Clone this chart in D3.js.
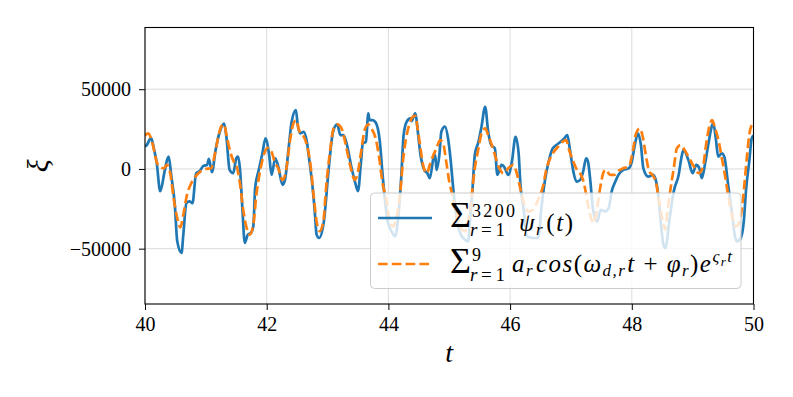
<!DOCTYPE html>
<html><head><meta charset="utf-8">
<script src="https://cdn.jsdelivr.net/npm/d3@7"></script>
<style>body{margin:0;background:#fff}</style>
</head><body>
<svg id="chart" width="793" height="397"></svg>
<script>
// ---- data ----
const xTicks = [40, 42, 44, 46, 48, 50];
const yTicks = [-50000, 0, 50000];
const tBlue = [40.00,40.03,40.10,40.15,40.19,40.25,40.32,40.37,40.39,40.43,40.49,40.53,40.60,40.63,40.68,40.73,40.78,40.84,40.90,40.96,41.02,41.05,41.10,41.16,41.23,41.30,41.34,41.39,41.45,41.50,41.53,41.56,41.60,41.64,41.69,41.74,41.78,41.81,41.87,41.93,41.98,42.04,42.08,42.14,42.19,42.26,42.30,42.36,42.41,42.48,42.51,42.55,42.61,42.66,42.70,42.75,42.79,42.82,42.86,42.94,43.01,43.09,43.16,43.21,43.26,43.32,43.39,43.45,43.50,43.55,43.58,43.63,43.67,43.69,43.74,43.79,43.86,43.90,43.94,43.99,44.05,44.11,44.16,44.21,44.25,44.30,44.36,44.38,44.44,44.49,44.52,44.59,44.64,44.68,44.74,44.77,44.79,44.84,44.87,44.93,44.98,45.02,45.07,45.12,45.19,45.26,45.31,45.34,45.38,45.42,45.48,45.53,45.59,45.64,45.69,45.75,45.79,45.86,45.90,45.97,46.03,46.09,46.14,46.17,46.22,46.28,46.37,46.46,46.52,46.57,46.64,46.70,46.76,46.83,46.89,46.94,46.98,47.04,47.09,47.15,47.20,47.25,47.28,47.32,47.36,47.43,47.49,47.56,47.62,47.67,47.73,47.78,47.86,47.95,48.00,48.05,48.10,48.15,48.19,48.27,48.35,48.40,48.44,48.48,48.52,48.55,48.63,48.69,48.77,48.82,48.85,48.93,49.00,49.06,49.11,49.15,49.21,49.26,49.32,49.34,49.38,49.42,49.48,49.52,49.59,49.65,49.69,49.73,49.79,49.84,49.88,49.93,49.97,50.00];
const xiBlue = [14000,15000,19500,12000,4600,-14000,-2000,6500,7700,-3750,-22500,-45400,-52700,-41000,-21500,-20400,-21500,-2700,-1250,1900,2500,6250,-2000,11900,23300,28500,19200,-600,-2700,6700,7700,400,-24600,-46400,-41200,-40200,-36000,-12000,-600,9800,19200,8750,-3750,6700,1500,-10000,-6900,12900,29600,36900,27500,22300,23300,17000,5600,-10000,-26700,-41200,-43300,-32900,-3750,23300,27900,21200,21200,15000,1500,-7900,-14000,4600,16000,17000,34800,30600,30600,29200,17000,-1700,-18300,-33000,-39000,-42300,-30800,-5800,21200,29600,31700,30000,34800,21200,10800,-600,-2700,-5800,6700,8750,-600,9800,23300,26500,19200,6700,-14000,-30800,-41200,-44400,-45400,-33000,-14000,8750,17000,26500,39000,23300,15000,12900,-3750,2500,1500,-3750,4600,20200,9800,-10000,-24600,-42300,-43300,-43300,-22500,-7900,5600,12900,15000,17000,19200,21200,12900,-1700,-7900,-6900,-1700,6700,4600,-7900,-24600,-33000,-25600,-26600,-24600,-14000,-7900,-3750,-600,400,4600,15000,22300,15000,400,-4800,-3750,-7900,-18300,-35000,-47500,-49600,-28700,-14000,-3750,8000,11900,5600,-2700,2500,400,-5800,4600,16000,27500,28500,19200,7700,9800,7700,-12000,-28700,-41200,-45400,-43300,-33000,-12000,4600,19200,21000];
const tOrange = [40.00,40.05,40.13,40.19,40.24,40.31,40.36,40.42,40.47,40.53,40.58,40.63,40.69,40.76,40.83,40.91,41.00,41.09,41.14,41.20,41.25,41.30,41.34,41.40,41.46,41.50,41.56,41.61,41.67,41.72,41.78,41.83,41.90,41.97,42.02,42.08,42.13,42.19,42.26,42.32,42.38,42.43,42.48,42.54,42.61,42.66,42.72,42.77,42.82,42.87,42.93,42.98,43.04,43.10,43.16,43.23,43.30,43.37,43.45,43.50,43.56,43.61,43.67,43.72,43.79,43.85,43.90,43.97,44.02,44.08,44.13,44.19,44.25,44.29,44.34,44.40,44.44,44.48,44.52,44.57,44.63,44.68,44.74,44.79,44.85,44.90,44.95,45.00,45.05,45.12,45.19,45.26,45.33,45.37,45.42,45.48,45.53,45.59,45.64,45.69,45.75,45.81,45.89,45.97,46.05,46.11,46.16,46.22,46.30,46.38,46.46,46.54,46.60,46.66,46.72,46.79,46.86,46.92,46.97,47.04,47.10,47.15,47.22,47.27,47.33,47.37,47.43,47.48,47.54,47.58,47.64,47.71,47.78,47.86,47.95,48.02,48.07,48.13,48.18,48.23,48.29,48.34,48.40,48.45,48.51,48.55,48.58,48.63,48.69,48.74,48.80,48.85,48.93,49.02,49.10,49.17,49.22,49.28,49.32,49.37,49.43,49.48,49.54,49.59,49.65,49.70,49.75,49.81,49.85,49.89,49.93,49.97,50.00];
const xiOrange = [21000,22300,15000,4600,1500,400,2500,-3750,-18300,-30800,-36700,-28700,-16200,-9000,-4800,-1700,0,400,7700,19200,26500,27900,21200,10800,4600,2500,-9000,-24600,-37000,-41200,-35000,-16200,400,10800,13300,10800,4600,400,-6900,-600,17000,27500,30600,23300,20200,15000,2500,-16200,-33000,-39000,-33000,-10000,10800,25400,27900,25400,15000,2500,-6900,-1700,12900,24400,27900,25400,19200,6700,-7900,-20400,-33000,-36000,-30800,-16200,8750,19200,27500,32700,33300,25400,15000,2500,-2700,2500,8750,12900,18100,16000,4600,-7900,-16200,-28700,-37000,-39000,-28700,-16200,400,12900,22300,25400,21200,16000,8750,1500,-2700,400,2500,-2700,-11000,-20400,-26700,-25600,-19400,-11000,400,6700,10800,14000,17000,18100,11900,4600,-600,-2700,-10000,-20400,-30800,-33900,-24600,-12000,-1700,-600,-3750,-3750,-1250,400,1500,11900,22300,25400,20200,8750,-1700,-3750,-9000,-20400,-33000,-38000,-28700,-14000,400,12900,15000,12900,7700,1500,-2700,1500,15000,27500,30600,25400,17000,6700,-5800,-18300,-29800,-36000,-35000,-24600,-10000,6700,21200,27500,28700];

// ---- layout ----
const svg = d3.select("#chart");
const L = 145, R = 753.5, T = 27.5, B = 304;
const FONT = "'Liberation Serif','DejaVu Serif',serif";
const x = d3.scaleLinear().domain([40, 50]).range([L, R]);
const y = d3.scaleLinear().domain([-84700, 88700]).range([B, T]);

// grid
const grid = svg.append("g");
grid.selectAll("line.gx").data(xTicks).join("line")
  .attr("x1", d => x(d)).attr("x2", d => x(d)).attr("y1", T).attr("y2", B)
  .attr("stroke", "#b0b0b0").attr("stroke-opacity", 0.45).attr("stroke-width", 1);
grid.selectAll("line.gy").data(yTicks).join("line")
  .attr("x1", L).attr("x2", R).attr("y1", d => y(d)).attr("y2", d => y(d))
  .attr("stroke", "#b0b0b0").attr("stroke-opacity", 0.45).attr("stroke-width", 1);

// clip
svg.append("clipPath").attr("id", "clip").append("rect")
  .attr("x", L).attr("y", T).attr("width", R - L).attr("height", B - T);

const line = d3.line().x(d => x(d[0])).y(d => y(d[1])).curve(d3.curveMonotoneX);
const blue = tBlue.map((t, i) => [t, xiBlue[i]]);
const orange = tOrange.map((t, i) => [t, xiOrange[i]]);

const plot = svg.append("g").attr("clip-path", "url(#clip)");
plot.append("path").datum(blue).attr("d", line)
  .attr("fill", "none").attr("stroke", "#1f77b4").attr("stroke-width", 2.7)
  .attr("stroke-linejoin", "round").attr("stroke-linecap", "butt");
plot.append("path").datum(orange).attr("d", line)
  .attr("fill", "none").attr("stroke", "#ff7f0e").attr("stroke-width", 2.7)
  .attr("stroke-dasharray", "9.6,4.2").attr("stroke-linejoin", "round");

// axes
const xAxis = svg.append("g").attr("transform", `translate(0,${B})`)
  .call(d3.axisBottom(x).tickValues(xTicks).tickSize(6).tickPadding(7).tickFormat(d3.format("d")));
const yAxis = svg.append("g").attr("transform", `translate(${L},0)`)
  .call(d3.axisLeft(y).tickValues(yTicks).tickSize(6).tickPadding(8).tickFormat(d3.format("d")));
[xAxis, yAxis].forEach(a => {
  a.select(".domain").remove();
  a.selectAll(".tick line").attr("stroke", "#000").attr("stroke-width", 1);
  a.selectAll(".tick text").attr("fill", "#000").style("font-family", FONT).style("font-size", "20px");
});

// frame
svg.append("rect").attr("x", L).attr("y", T).attr("width", R - L).attr("height", B - T)
  .attr("fill", "none").attr("stroke", "#000").attr("stroke-width", 1.1);

// axis labels
svg.append("text").attr("x", (L + R) / 2).attr("y", 362).attr("text-anchor", "middle")
  .style("font-family", FONT).style("font-style", "italic").style("font-size", "28px").text("t");
svg.append("text").attr("transform", `translate(48,${(T + B) / 2}) rotate(-90)`)
  .attr("text-anchor", "middle")
  .style("font-family", FONT).style("font-style", "italic").style("font-size", "30px").text("ξ");

// legend
const lg = svg.append("g");
lg.append("rect").attr("x", 370.5).attr("y", 193).attr("width", 370.5).attr("height", 95.5)
  .attr("rx", 4).attr("fill", "#fff").attr("fill-opacity", 0.8)
  .attr("stroke", "#cccccc").attr("stroke-width", 1);
lg.append("line").attr("x1", 378).attr("x2", 432).attr("y1", 218).attr("y2", 218)
  .attr("stroke", "#1f77b4").attr("stroke-width", 2.7);
lg.append("line").attr("x1", 378).attr("x2", 432).attr("y1", 264).attr("y2", 264)
  .attr("stroke", "#ff7f0e").attr("stroke-width", 2.7).attr("stroke-dasharray", "9.6,4.2");

function txt(xp, yp, size, parts, len) {
  const t = lg.append("text").attr("x", xp).attr("y", yp)
    .style("font-family", FONT).style("font-size", size + "px").attr("fill", "#000");
  if (len) t.attr("textLength", len).attr("lengthAdjust", "spacing");
  parts.forEach(p => {
    const s = t.append("tspan").text(p.s);
    if (p.i) s.style("font-style", "italic");
    if (p.z) s.style("font-size", p.z + "px");
    if (p.dy) s.attr("dy", p.dy);
    if (p.dx) s.attr("dx", p.dx);
  });
  return t;
}
// row 1
txt(450, 227, 36, [{s: "Σ"}]);
txt(472, 216.5, 18, [{s: "3200"}], 43);
txt(470, 235.5, 19, [{s: "r", i: 1}, {s: "=1"}], 35);
txt(519, 231, 25, [{s: "ψ", i: 1}, {s: "r", i: 1, z: 17, dy: 4}, {s: "(", dy: -4, dx: 2}, {s: "t", i: 1}, {s: ")"}], 54);
// row 2
txt(450, 273, 36, [{s: "Σ"}]);
txt(472, 261, 18, [{s: "9"}]);
txt(470, 281, 19, [{s: "r", i: 1}, {s: "=1"}], 35);
txt(512, 272, 25, [
  {s: "a", i: 1}, {s: "r", i: 1, z: 17, dy: 4},
  {s: "cos", i: 1, dy: -4, dx: 2}, {s: "("}, {s: "ω", i: 1},
  {s: "d,r", i: 1, z: 17, dy: 4}, {s: "t", i: 1, dy: -4, dx: 1},
  {s: " + "}, {s: "φ", i: 1}, {s: "r", i: 1, z: 17, dy: 4},
  {s: ")", dy: -4}, {s: "e", i: 1},
  {s: "ς", i: 1, z: 17, dy: -10}, {s: "r", i: 1, z: 13, dy: 4}, {s: "t", i: 1, z: 17, dy: -4}
], 220);
</script>
</body></html>
